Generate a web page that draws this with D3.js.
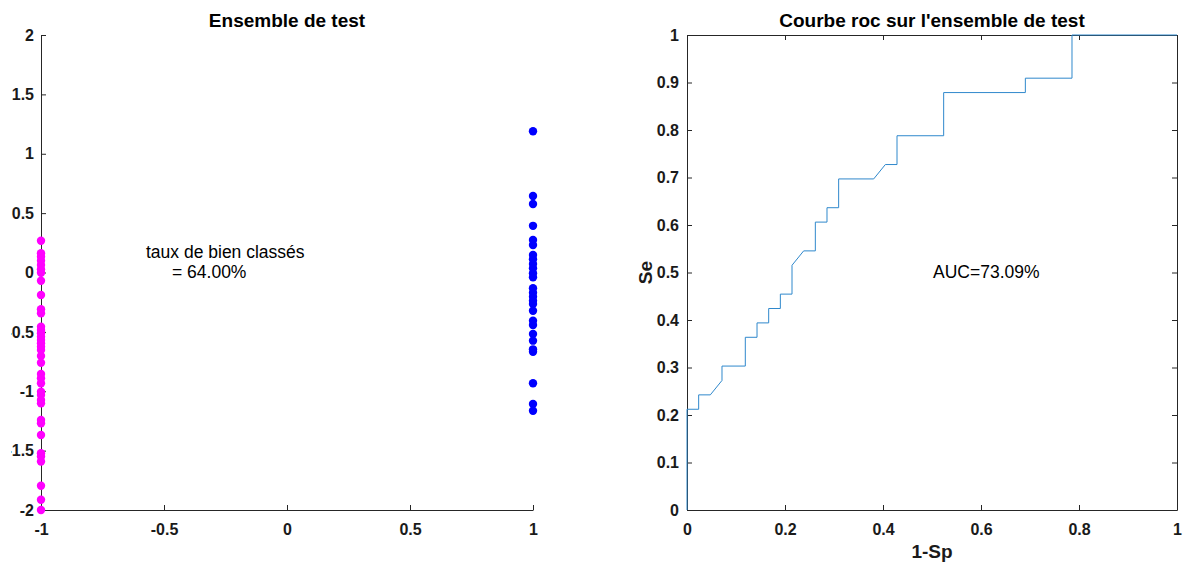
<!DOCTYPE html>
<html>
<head>
<meta charset="utf-8">
<script src="https://cdn.jsdelivr.net/npm/d3@7"></script>
<style>
  html, body { margin: 0; padding: 0; background: #fff; }
  svg { display: block; font-family: "Liberation Sans", Arial, sans-serif; }
</style>
</head>
<body>
<svg id="chart" width="1186" height="567"></svg>
<script>
// ---------------- Data ----------------
// Left panel: test set outputs, class -1 (magenta) and class 1 (blue)
const classNeg = -1;
const classPos = 1;
const outputsNeg = [0.268, 0.162, 0.133, 0.099, 0.063, 0.027, -0.002, -0.069, -0.189, -0.310,
  -0.343, -0.456, -0.484, -0.512, -0.540, -0.568, -0.596, -0.625, -0.653, -0.703,
  -0.760, -0.855, -0.891, -0.933, -1.004, -1.032, -1.074, -1.102, -1.242, -1.270,
  -1.368, -1.522, -1.550, -1.592, -1.796, -1.914, -2.0];
const outputsPos = [1.190, 0.644, 0.577, 0.393, 0.274, 0.232, 0.147, 0.111, 0.072, 0.035,
  -0.007, -0.040, -0.133, -0.170, -0.204, -0.238, -0.265, -0.322, -0.406, -0.442,
  -0.518, -0.574, -0.647, -0.667, -0.933, -1.107, -1.164];
const leftXTicks = [-1, -0.5, 0, 0.5, 1];
const leftYTicks = [-2, -1.5, -1, -0.5, 0, 0.5, 1, 1.5, 2];
const accuracyLabel = ["taux de bien classés", "= 64.00%"];

// Right panel: ROC curve (1-Sp, Se)
const rocFpr = [0, 0, 0.0238, 0.0238, 0.0476, 0.0714, 0.0714, 0.1190, 0.1190, 0.1429, 0.1429,
  0.1667, 0.1667, 0.1905, 0.1905, 0.2143, 0.2143, 0.2381, 0.2619, 0.2619, 0.2857, 0.2857,
  0.3095, 0.3095, 0.3810, 0.4048, 0.4286, 0.4286, 0.5238, 0.5238, 0.6905, 0.6905,
  0.7857, 0.7857, 1];
const rocTpr = [0, 0.2121, 0.2121, 0.2424, 0.2424, 0.2727, 0.3030, 0.3030, 0.3636, 0.3636, 0.3939,
  0.3939, 0.4242, 0.4242, 0.4545, 0.4545, 0.5152, 0.5455, 0.5455, 0.6061, 0.6061, 0.6364,
  0.6364, 0.6970, 0.6970, 0.7273, 0.7273, 0.7879, 0.7879, 0.8788, 0.8788, 0.9091,
  0.9091, 1, 1];
const rocXTicks = [0, 0.2, 0.4, 0.6, 0.8, 1];
const rocYTicks = [0, 0.1, 0.2, 0.3, 0.4, 0.5, 0.6, 0.7, 0.8, 0.9, 1];
const aucLabel = "AUC=73.09%";

// ---------------- Drawing ----------------
const svg = d3.select("#chart");
const axisColor = "#262626";
const FF = "'Liberation Sans', Arial, sans-serif";
const tickFont = `bold 16px ${FF}`;
const titleFont = `bold 19px ${FF}`;
const labelFont = `bold 19px ${FF}`;
const noteFont = `17.5px ${FF}`;
const fmt = d => String(d);

function styleAxis(g) {
  g.selectAll("path.domain").attr("stroke", axisColor).attr("stroke-width", 1);
  g.selectAll(".tick line").attr("stroke", axisColor);
  g.selectAll(".tick text").attr("fill", "#1a1a1a").style("font", tickFont);
}

// ----- Left panel -----
const L = {left: 41, right: 533, top: 35, bottom: 510};
const xL = d3.scaleLinear().domain([-1, 1]).range([L.left, L.right]);
const yL = d3.scaleLinear().domain([-2, 2]).range([L.bottom, L.top]);

svg.append("defs").append("clipPath").attr("id", "labelClip")
  .append("rect").attr("x", 11).attr("y", 0).attr("width", 1186).attr("height", 567);

const gLx = svg.append("g").attr("transform", `translate(0,${L.bottom})`)
  .call(d3.axisBottom(xL).tickValues(leftXTicks).tickFormat(fmt).tickSizeInner(-5).tickSizeOuter(0).tickPadding(14));
styleAxis(gLx);

const gLyWrap = svg.append("g").attr("clip-path", "url(#labelClip)");
const gLy = gLyWrap.append("g").attr("transform", `translate(${L.left},0)`)
  .call(d3.axisLeft(yL).tickValues(leftYTicks).tickFormat(fmt).tickSizeInner(-5).tickSizeOuter(0).tickPadding(7));
styleAxis(gLy);

const negPts = outputsNeg.map(v => ({x: classNeg, y: v}));
const posPts = outputsPos.map(v => ({x: classPos, y: v}));
svg.append("g").selectAll("circle").data(negPts).join("circle")
  .attr("cx", d => xL(d.x)).attr("cy", d => yL(d.y)).attr("r", 4.2).attr("fill", "#ff00ff");
svg.append("g").selectAll("circle").data(posPts).join("circle")
  .attr("cx", d => xL(d.x)).attr("cy", d => yL(d.y)).attr("r", 4.2).attr("fill", "#0000ff");

svg.append("text").attr("x", (L.left + L.right) / 2).attr("y", 27)
  .attr("text-anchor", "middle").style("font", titleFont)
  .attr("fill", "#000").text("Ensemble de test");

svg.append("text").attr("x", 146).attr("y", 258)
  .style("font", noteFont).attr("fill", "#000").text(accuracyLabel[0]);
svg.append("text").attr("x", 172).attr("y", 278)
  .style("font", noteFont).attr("fill", "#000").text(accuracyLabel[1]);

// ----- Right panel -----
const R = {left: 687, right: 1177, top: 35, bottom: 510};
const xR = d3.scaleLinear().domain([0, 1]).range([R.left, R.right]);
const yR = d3.scaleLinear().domain([0, 1]).range([R.bottom, R.top]);

const gRx = svg.append("g").attr("transform", `translate(0,${R.bottom})`)
  .call(d3.axisBottom(xR).tickValues(rocXTicks).tickFormat(fmt).tickSizeInner(-5).tickSizeOuter(0).tickPadding(14));
styleAxis(gRx);
const gRy = svg.append("g").attr("transform", `translate(${R.left},0)`)
  .call(d3.axisLeft(yR).tickValues(rocYTicks).tickFormat(fmt).tickSizeInner(-5).tickSizeOuter(0).tickPadding(8));
styleAxis(gRy);
const gRt = svg.append("g").attr("transform", `translate(0,${R.top})`)
  .call(d3.axisTop(xR).tickValues(rocXTicks).tickFormat("").tickSizeInner(-5).tickSizeOuter(0));
styleAxis(gRt);
const gRr = svg.append("g").attr("transform", `translate(${R.right},0)`)
  .call(d3.axisRight(yR).tickValues(rocYTicks).tickFormat("").tickSizeInner(-5).tickSizeOuter(0));
styleAxis(gRr);

const rocPts = rocFpr.map((f, i) => [f, rocTpr[i]]);
svg.append("path").datum(rocPts)
  .attr("fill", "none").attr("stroke", "#2f88cc").attr("stroke-width", 1)
  .attr("d", d3.line().x(d => xR(d[0])).y(d => yR(d[1])));

svg.append("text").attr("x", (R.left + R.right) / 2).attr("y", 27)
  .attr("text-anchor", "middle").style("font", titleFont)
  .attr("fill", "#000").text("Courbe roc sur l'ensemble de test");

svg.append("text").attr("x", (R.left + R.right) / 2).attr("y", 558)
  .attr("text-anchor", "middle").style("font", labelFont)
  .attr("fill", "#1a1a1a").text("1-Sp");

svg.append("text").attr("transform", `translate(652,${(R.top + R.bottom) / 2}) rotate(-90)`)
  .attr("text-anchor", "middle").style("font", labelFont)
  .attr("fill", "#1a1a1a").text("Se");

svg.append("text").attr("x", 933).attr("y", 278)
  .style("font", noteFont).attr("fill", "#000").text(aucLabel);
</script>
</body>
</html>
